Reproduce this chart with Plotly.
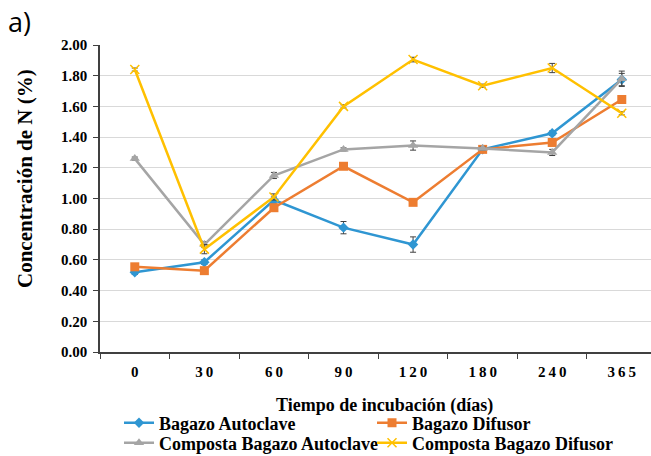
import plotly.graph_objects as go

dias = ["0", "30", "60", "90", "120", "180", "240", "365"]

bagazo_autoclave = [0.52, 0.585, 0.99, 0.81, 0.70, 1.32, 1.425, 1.775]
bagazo_autoclave_err = [0.015, 0.015, 0.02, 0.04, 0.05, 0.015, 0.015, 0.04]

bagazo_difusor = [0.555, 0.53, 0.94, 1.21, 0.975, 1.32, 1.365, 1.645]
bagazo_difusor_err = [0.01, 0.01, 0.01, 0.015, 0.01, 0.01, 0.02, 0.01]

composta_autoclave = [1.26, 0.70, 1.15, 1.32, 1.345, 1.325, 1.30, 1.78]
composta_autoclave_err = [0.01, 0.02, 0.02, 0.01, 0.03, 0.01, 0.02, 0.05]

composta_difusor = [1.84, 0.67, 1.01, 1.60, 1.905, 1.735, 1.85, 1.555]
composta_difusor_err = [0.01, 0.03, 0.02, 0.01, 0.015, 0.01, 0.03, 0.01]

series = [
    ("Bagazo Autoclave", bagazo_autoclave, bagazo_autoclave_err, "#2F96D2", "diamond", 8, "legend"),
    ("Bagazo Difusor", bagazo_difusor, bagazo_difusor_err, "#ED7D31", "square", 9, "legend"),
    ("Composta Bagazo Autoclave", composta_autoclave, composta_autoclave_err, "#A5A5A5", "triangle-up", 9, "legend2"),
    ("Composta Bagazo Difusor", composta_difusor, composta_difusor_err, "#FFC000", "x-thin", 9, "legend2"),
]

serif = "Liberation Serif"

fig = go.Figure()
for name, vals, err, color, sym, size, leg in series:
    marker = dict(symbol=sym, size=size, color=color)
    if sym == "x-thin":
        marker["line"] = dict(color=color, width=1.5)
    fig.add_trace(go.Scatter(
        x=dias, y=vals, name=name, mode="lines+markers",
        line=dict(color=color, width=2.5),
        marker=marker, legend=leg,
        error_y=dict(type="data", array=err, visible=True, color="#404040", thickness=1, width=3),
    ))

ticktext = ["<b>" + "\u2009".join(d) + "</b>" for d in dias]
ytickvals = [0.0, 0.2, 0.4, 0.6, 0.8, 1.0, 1.2, 1.4, 1.6, 1.8, 2.0]
yticktext = ["<b>%.2f</b>" % v for v in ytickvals]

legend_common = dict(
    orientation="h", x=0.0345, xanchor="left", yanchor="middle",
    font=dict(family=serif, size=18, color="black", weight="bold"),
    entrywidth=208, entrywidthmode="pixels",
    itemwidth=30, bgcolor="rgba(0,0,0,0)",
)

fig.update_layout(
    width=651, height=456,
    margin=dict(l=100, r=0, t=45, b=104, autoexpand=False),
    paper_bgcolor="white", plot_bgcolor="white",
    font=dict(family=serif, color="black"),
    showlegend=True,
    legend=dict(legend_common, y=-0.2313),
    legend2=dict(legend_common, y=-0.2964),
    xaxis=dict(
        type="category", range=[-0.5, 7.42],
        tickmode="array", tickvals=dias, ticktext=ticktext,
        tickson="boundaries", ticks="outside", ticklen=5, tickcolor="#404040",
        ticklabelstandoff=5,
        showline=True, linecolor="#404040", linewidth=1.5,
        showgrid=False,
        tickfont=dict(family=serif, size=15, color="black"),
    ),
    yaxis=dict(
        range=[0, 2.0], tickmode="array", tickvals=ytickvals, ticktext=yticktext,
        ticks="outside", ticklen=5, tickcolor="#404040",
        ticklabelstandoff=3,
        showline=True, linecolor="#404040", linewidth=1.5,
        showgrid=True, gridcolor="#D9D9D9", gridwidth=1,
        zeroline=False,
        tickfont=dict(family=serif, size=15, color="black"),
    ),
)

# axis titles placed as in the reference
fig.add_annotation(
    text="Concentración de N (%)", textangle=-90,
    xref="paper", yref="paper", x=(25 - 100) / 551, y=(352 - 179) / 307,
    xanchor="center", yanchor="middle", showarrow=False,
    font=dict(family=serif, size=21, color="black", weight="bold"),
)
fig.add_annotation(
    text="Tiempo de incubación (días)",
    xref="paper", yref="paper", x=(384 - 100) / 551, y=(352 - 405) / 307,
    xanchor="center", yanchor="middle", showarrow=False,
    font=dict(family=serif, size=18, color="black", weight="bold"),
)

fig.add_annotation(
    text="a)", xref="paper", yref="paper", x=(6 - 100) / 551, y=(352 - 22) / 307,
    xanchor="left", yanchor="middle", showarrow=False,
    font=dict(family="Open Sans, Noto Sans, sans-serif", size=27, color="black"),
)

fig.write_html("out.html")
